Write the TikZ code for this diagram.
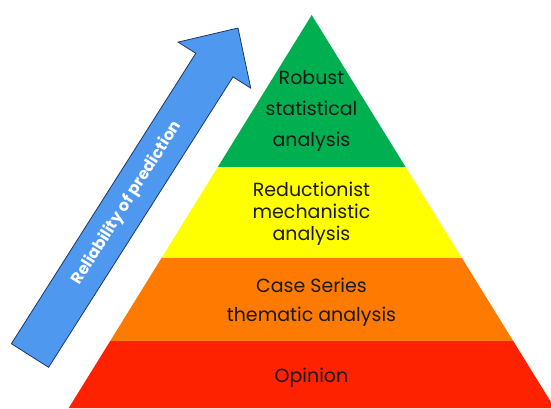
\documentclass[tikz,border=0pt]{standalone}
\usepackage{fontspec}
\setmainfont{Poppins}
\definecolor{pgreen}{RGB}{0,176,80}
\definecolor{pyellow}{RGB}{255,255,0}
\definecolor{porange}{RGB}{255,122,0}
\definecolor{pred}{RGB}{255,34,0}
\definecolor{pblue}{RGB}{79,152,240}
\definecolor{pblueline}{RGB}{31,56,100}
\definecolor{ptext}{RGB}{25,25,25}
\begin{document}
\begin{tikzpicture}[x=1pt,y=-1pt,
  band/.style={draw=none},
  lbl/.style={align=center,text=ptext,inner sep=0pt},
  arrowtxt/.style={text=white,font=\bfseries\fontsize{16}{18}\selectfont,inner sep=0pt}]
\useasboundingbox (0,0) rectangle (551,408);
\clip (0,0) rectangle (551,408);
% pyramid bands
\fill[pgreen] (311.7,15) -- (405.6,167) -- (217.8,167) -- cycle;
\fill[pyellow] (217.8,167) -- (405.6,167) -- (461.9,258) -- (161.5,258) -- cycle;
\fill[porange] (161.5,258) -- (461.9,258) -- (513.2,341) -- (110.2,341) -- cycle;
\fill[pred] (110.2,341) -- (513.2,341) -- (554.7,408) -- (68.7,408) -- cycle;
% labels
\node[lbl,font=\fontsize{19}{31}\selectfont] (robust) at (311.5,111) {Robust\\statistical\\analysis};
\node[lbl,font=\fontsize{19}{22}\selectfont] (reduct) at (311.5,214) {Reductionist\\mechanistic\\analysis};
\node[lbl,font=\fontsize{19}{29}\selectfont] (case) at (311.5,302) {Case Series\\thematic analysis};
\node[lbl,font=\fontsize{19}{22}\selectfont] (opinion) at (311.5,378) {Opinion};
% arrow
\filldraw[fill=pblue,draw=pblueline,line width=0.8pt,line join=miter]
  (11.4,343.7) -- (195.8,53.3) -- (178.1,42.1) -- (238,28) -- (250.7,88.1)
  -- (233.0,76.9) -- (48.6,367.3) -- cycle;
\node[arrowtxt,rotate=57.6] (rel) at (127,203) {Reliability of prediction};
\end{tikzpicture}
\end{document}
